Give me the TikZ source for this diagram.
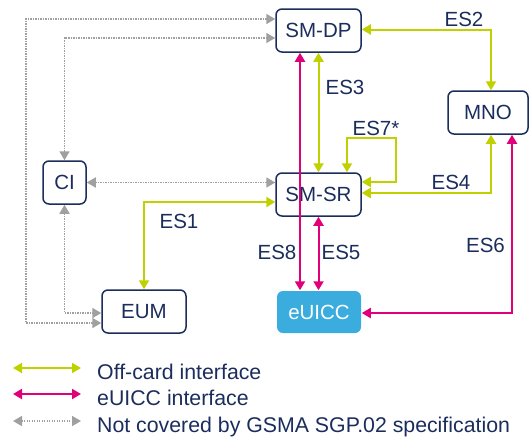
\documentclass[tikz,border=0pt]{standalone}
\usepackage{fontspec}
\setmainfont{Liberation Sans}
\usetikzlibrary{arrows.meta}
\definecolor{navy}{HTML}{1B2D5C}
\definecolor{offc}{HTML}{BFD200}
\definecolor{mag}{HTML}{E2007A}
\definecolor{ngray}{HTML}{A0A0A0}
\definecolor{eblue}{HTML}{3AADDE}
\begin{document}
\begin{tikzpicture}[x=1pt,y=-1pt,
  font=\fontsize{20.5}{24}\selectfont, text=navy,
  entity/.style={draw=navy, line width=1.5pt, rounded corners=6pt, minimum height=43pt, inner sep=0pt},
  offcard/.style={draw=offc, line width=2pt, {Triangle[length=9pt,width=10pt]}-{Triangle[length=9pt,width=10pt]}},
  cardif/.style={draw=mag, line width=2pt, {Triangle[length=9pt,width=10pt]}-{Triangle[length=9pt,width=10pt]}},
  notcov/.style={draw=ngray, line width=1.7pt, dash pattern=on 1.3pt off 1.2pt, {Triangle[length=9pt,width=10pt]}-{Triangle[length=9pt,width=10pt]}},
  lbl/.style={inner sep=1pt},
  legtext/.style={anchor=base west, inner sep=0pt, font=\fontsize{21.3}{25}\selectfont}]
\useasboundingbox (0,0) rectangle (529,439);
% entities
\node[entity, minimum width=85pt] (smdp) at (318.5,30.5) {SM-DP};
\node[entity, minimum width=85pt] (smsr) at (318.5,194.5) {SM-SR};
\node[entity, minimum width=80pt] (mno) at (488,112.5) {MNO};
\node[entity, minimum width=43pt] (ci) at (64.5,182.5) {CI};
\node[entity, minimum width=84pt] (eum) at (144,311.5) {EUM};
\node[entity, draw=none, fill=eblue, text=white, minimum width=84pt, minimum height=42pt] (euicc) at (319,312) {eUICC};
% off-card interfaces
\draw[offcard] (smdp.east |- 0,29.5) -| (mno.north -| 491,0);
\draw[offcard] (smdp.south) -- (smsr.north);
\draw[offcard] (smsr.north -| 347,0) -- (347,138) -- (396,138) -- (396,182) -- (smsr.east |- 0,182);
\draw[offcard] (smsr.east |- 0,193) -| (mno.south -| 491,0);
\draw[offcard] (eum.north) |- (smsr.west |- 0,202);
% eUICC interfaces
\draw[cardif] (smdp.south -| 300,0) -- (euicc.north -| 300,0);
\draw[cardif] (smsr.south) -- (smsr.south |- euicc.north);
\draw[cardif] (euicc.east |- 0,313) -| (mno.south -| 512,0);
% not covered
\draw[notcov] (eum.west |- 0,323) -| (26,19) -- (smdp.west |- 0,19);
\draw[notcov] (ci.north) |- (smdp.west |- 0,38);
\draw[notcov] (ci.east) -- (smsr.west |- ci.east);
\draw[notcov] (ci.south) |- (eum.west |- 0,313);
% labels
\node[lbl] (es2) at (464,19.5) {ES2};
\node[lbl] (es3) at (345,87.5) {ES3};
\node[lbl] (es7) at (376,128) {ES7*};
\node[lbl] (es4) at (451,182) {ES4};
\node[lbl] (es8) at (277,252) {ES8};
\node[lbl] (es5) at (341,252) {ES5};
\node[lbl] (es6) at (485.5,245.5) {ES6};
\node[lbl] (es1) at (179,221) {ES1};
% legend
\coordinate (g1a) at (13,368); \coordinate (g1b) at (81,368);
\coordinate (g2a) at (13,394); \coordinate (g2b) at (81,394);
\coordinate (g3a) at (13,421); \coordinate (g3b) at (81,421);
\draw[offcard] (g1a) -- (g1b);
\draw[cardif] (g2a) -- (g2b);
\draw[notcov] (g3a) -- (g3b);
\node[legtext] (t1) at (97,379) {Off-card interface};
\node[legtext] (t2) at (97,405.5) {eUICC interface};
\node[legtext] (t3) at (97,432) {Not covered by GSMA SGP.02 specification};
\end{tikzpicture}
\end{document}
